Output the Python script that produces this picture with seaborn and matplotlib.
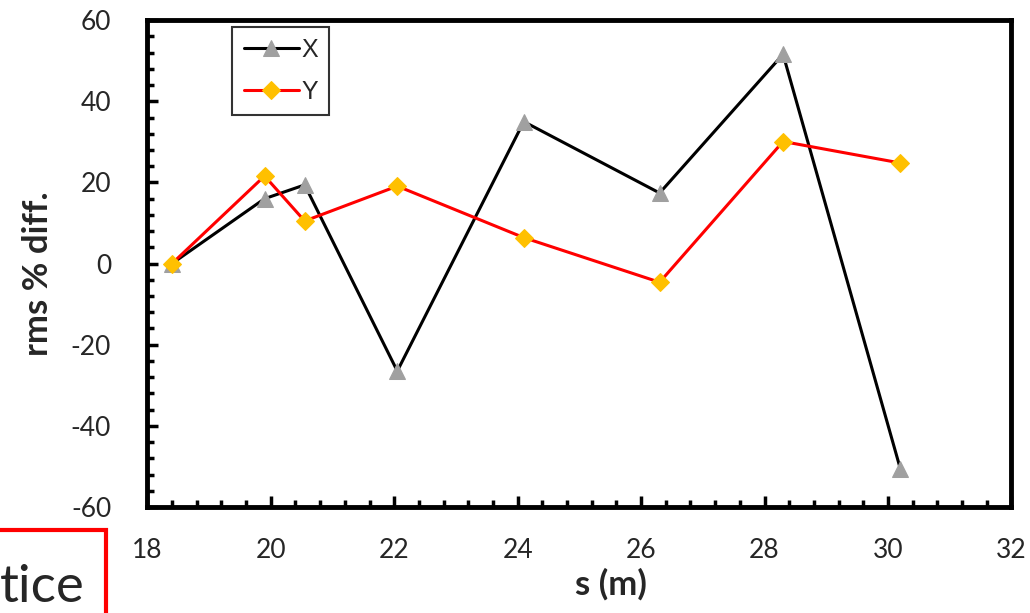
import numpy as np
import pandas as pd
import matplotlib.pyplot as plt
from matplotlib.patches import Rectangle
from matplotlib.ticker import MultipleLocator
import seaborn as sns

# positions along the beamline (m)
s_pos = [18.4, 19.9, 20.55, 22.05, 24.1, 26.3, 28.3, 30.2]
# rms % difference in each plane
x_diff = [0, 16, 19.4, -26.5, 35, 17.4, 51.6, -50.6]
y_diff = [0, 21.6, 10.5, 19.1, 6.4, -4.6, 30.1, 24.8]

sns.set_style('white')
plt.rcParams['font.family'] = ['Lato', 'DejaVu Sans']
plt.rcParams['axes.unicode_minus'] = False

df = pd.DataFrame({'s': s_pos, 'X': x_diff, 'Y': y_diff})

fig = plt.figure(figsize=(10.3, 6.13), dpi=100)
ax = fig.add_axes([0.143, 0.173, 0.839, 0.794])

sns.lineplot(data=df, x='s', y='X', ax=ax, color='black', lw=2.2,
             marker='^', markersize=11, markerfacecolor='#a0a0a0',
             markeredgecolor='#a0a0a0', label='X', sort=False)
sns.lineplot(data=df, x='s', y='Y', ax=ax, color='#ff0000', lw=2.2,
             marker='D', markersize=9.5, markerfacecolor='#ffc000',
             markeredgecolor='#ffc000', label='Y', sort=False)

ax.set_xlim(18, 32)
ax.set_ylim(-60, 60)
ax.xaxis.set_major_locator(MultipleLocator(2))
ax.xaxis.set_minor_locator(MultipleLocator(0.4))
ax.yaxis.set_major_locator(MultipleLocator(20))
ax.yaxis.set_minor_locator(MultipleLocator(4))
ax.tick_params(which='both', direction='in', color='black', width=2.5)
ax.tick_params(which='major', length=8, labelsize=19)
ax.tick_params(which='minor', length=5)
ax.tick_params(axis='x', which='both', bottom=True, pad=22)
ax.tick_params(axis='y', which='both', left=True, pad=26)
for sp in ax.spines.values():
    sp.set_linewidth(3.5)
    sp.set_color('black')

ax.set_xlabel('s (m)', fontsize=25, fontweight='bold')
ax.set_ylabel('rms % diff.', fontsize=25, fontweight='bold')
ax.xaxis.set_label_coords(0.536, -0.125)
ax.yaxis.set_label_coords(-0.108, 0.48)

leg = ax.legend(loc='upper left', bbox_to_anchor=(0.084, 1.012),
                frameon=True, fancybox=False, edgecolor='black',
                handlelength=2.2, handletextpad=0.1, borderpad=0.45,
                labelspacing=0.7, prop={'family': 'Liberation Sans', 'size': 18})
leg.get_frame().set_linewidth(1.5)

# cropped label box at bottom-left
fig.add_artist(Rectangle((-0.05, -0.1), 0.153, 0.235, transform=fig.transFigure,
                         fill=False, edgecolor='#ff0000', lw=3))
fig.text(0.0, 0.018, 'tice', fontsize=38, ha='left', va='baseline',
         family=['Lato', 'DejaVu Sans'])

fig.savefig('out.png', dpi=100)
